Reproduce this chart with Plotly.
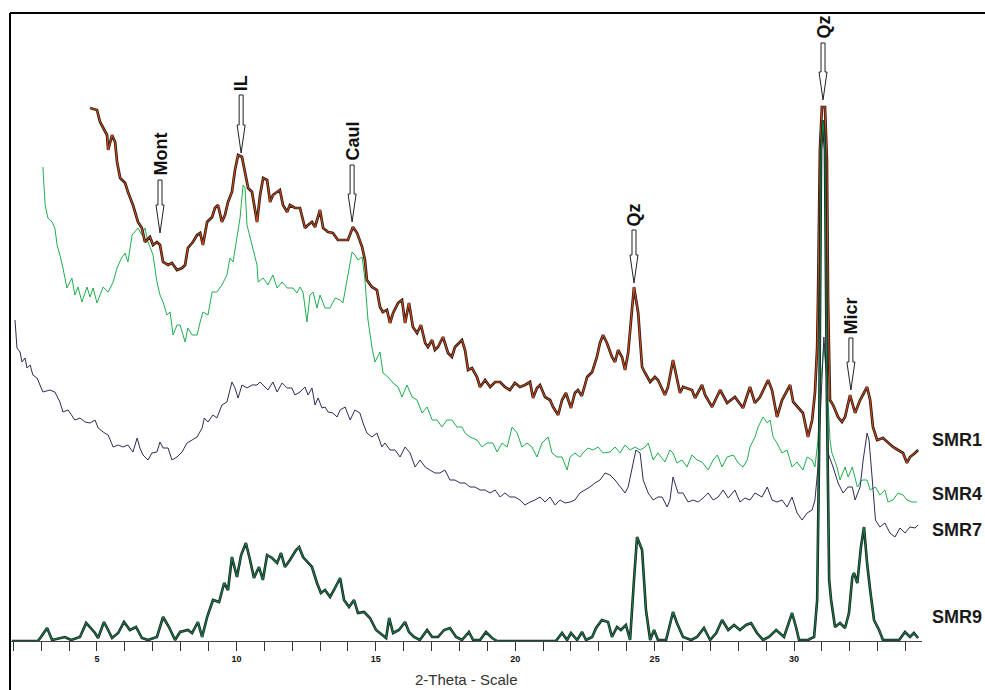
import plotly.graph_objects as go

# ---------------- data (2-Theta in degrees, intensity in a.u., stacked as displayed) -------------
smr1_theta = [4.75,5.00,5.11,5.36,5.40,5.54,5.65,5.72,5.83,6.01,6.11,6.29,6.47,6.61,6.72,6.90,7.01,7.15,7.26,7.37,
              7.55,7.69,7.87,8.05,8.16,8.26,8.44,8.59,8.70,8.80,8.95,9.13,9.23,9.34,9.48,9.59,9.70,9.84,9.95,10.06,
              10.20,10.31,10.42,10.56,10.74,10.85,10.96,11.10,11.21,11.31,11.46,11.56,11.67,11.82,11.92,12.10,12.28,12.46,12.57,12.71,
              12.82,13.00,13.11,13.29,13.46,13.64,13.82,14.00,14.18,14.33,14.51,14.61,14.68,14.86,15.04,15.15,15.25,15.40,15.51,15.62,
              15.80,15.94,16.05,16.19,16.33,16.48,16.62,16.77,16.87,17.02,17.12,17.23,17.41,17.59,17.73,17.84,18.09,18.20,18.31,18.45,
              18.63,18.74,18.92,19.10,19.28,19.46,19.63,19.81,19.99,20.17,20.35,20.53,20.64,20.78,20.89,21.07,21.25,21.36,21.54,21.68,
              21.82,22.00,22.14,22.25,22.39,22.58,22.76,22.93,23.04,23.15,23.29,23.47,23.58,23.69,23.83,23.94,24.05,24.19,24.26,24.41,
              24.55,24.66,24.84,25.01,25.12,25.37,25.48,25.66,25.80,25.91,26.02,26.34,26.45,26.70,26.81,27.06,27.35,27.60,27.88,28.17,
              28.42,28.60,28.78,29.07,29.21,29.39,29.57,29.86,29.97,30.14,30.32,30.50,30.65,30.75,30.83,30.86,30.93,31.00,31.11,31.18,
              31.22,31.29,31.40,31.58,31.72,31.83,32.01,32.19,32.37,32.62,32.73,32.83,32.98,33.19,33.37,33.55,33.73,33.91,34.05,34.16,
              34.34,34.45]
smr1_int = [533,531,519,506,491,506,499,479,463,458,449,436,419,413,399,404,396,399,396,379,
            376,378,371,373,376,393,399,406,408,396,419,424,433,436,419,426,439,449,471,486,
            484,469,453,449,419,446,463,461,439,446,449,451,436,429,436,433,433,413,416,419,
            414,431,413,409,408,401,401,401,414,408,394,381,361,354,351,334,329,331,318,328,
            338,341,318,338,314,308,316,298,294,301,291,294,304,288,284,294,301,291,271,273,
            264,254,261,254,259,259,254,251,258,254,256,259,243,253,256,244,241,234,226,241,
            248,233,248,251,245,264,269,284,298,306,298,284,279,291,284,271,288,328,354,328,
            274,268,259,264,261,246,254,281,261,248,254,251,243,256,246,234,251,238,244,233,
            254,238,244,261,251,224,241,256,239,234,228,204,221,248,294,341,491,534,534,481,
            341,241,236,224,219,224,246,228,241,254,241,214,201,203,198,194,191,188,178,184,
            188,191]

smr4_theta = [3.06,3.14,3.24,3.39,3.49,3.57,3.67,3.78,3.92,4.10,4.21,4.32,4.46,4.64,4.75,4.86,5.00,5.11,5.22,5.40,
              5.58,5.72,5.88,6.01,6.11,6.26,6.35,6.47,6.61,6.72,6.83,7.01,7.15,7.26,7.37,7.51,7.62,7.73,7.87,7.98,
              8.16,8.26,8.41,8.59,8.70,8.80,8.98,9.13,9.30,9.48,9.66,9.77,9.88,10.02,10.13,10.24,10.31,10.38,10.56,10.74,
              10.78,10.96,11.13,11.31,11.46,11.64,11.82,12.03,12.17,12.28,12.39,12.53,12.64,12.75,12.89,13.00,13.18,13.36,13.54,13.72,
              13.82,14.00,14.15,14.25,14.36,14.51,14.61,14.72,14.86,14.97,15.15,15.26,15.44,15.62,15.80,15.94,16.12,16.30,16.48,16.66,
              16.84,17.02,17.20,17.37,17.55,17.73,17.91,18.09,18.20,18.38,18.63,18.81,18.99,19.20,19.35,19.53,19.71,19.89,20.07,20.24,
              20.42,20.60,20.78,20.96,21.18,21.32,21.50,21.68,21.86,21.97,22.14,22.32,22.43,22.61,22.79,22.97,23.15,23.40,23.58,23.76,
              23.94,24.12,24.30,24.48,24.66,24.77,24.95,25.12,25.37,25.55,25.66,25.80,25.98,26.16,26.34,26.52,26.70,26.92,27.10,27.25,
              27.42,27.60,27.82,28.00,28.17,28.32,28.42,28.60,28.71,28.89,29.04,29.14,29.25,29.39,29.57,29.75,29.93,30.11,30.32,30.47,
              30.65,30.75,30.86,30.97,31.07,31.18,31.29,31.36,31.54,31.65,31.83,31.94,32.09,32.27,32.44,32.62,32.73,32.92,33.08,33.26,
              33.37,33.55,33.73,33.91,34.05,34.23,34.41]
smr4_int = [474,436,423,419,413,396,386,373,353,363,346,354,339,354,344,353,338,346,354,349,
            359,373,383,388,379,406,409,413,406,413,399,386,359,346,339,326,329,306,316,316,
            299,313,306,306,319,329,326,349,349,356,366,383,379,403,423,456,453,416,396,376,
            359,363,356,366,353,359,353,353,348,354,349,319,346,349,333,346,333,333,343,341,
            338,364,389,386,381,384,361,321,294,279,289,268,264,258,254,244,256,244,241,228,
            234,221,221,214,221,221,214,214,208,204,201,194,198,198,189,198,194,214,208,194,
            198,194,184,198,204,188,184,184,171,184,188,184,188,193,191,194,188,189,194,188,
            196,191,194,191,194,198,181,188,179,191,188,178,181,174,186,181,179,171,181,186,
            174,184,186,178,174,181,194,204,214,224,218,221,204,198,188,191,174,179,171,184,
            181,174,201,261,296,261,201,188,174,161,174,164,174,154,161,161,151,154,146,151,
            139,141,148,146,141,139,139]

smr7_theta = [2.06,2.13,2.24,2.31,2.42,2.49,2.60,2.70,2.85,2.96,3.06,3.31,3.49,3.67,3.78,3.96,4.10,4.21,4.39,4.57,
              4.75,4.93,5.04,5.22,5.40,5.58,5.76,5.93,6.11,6.29,6.44,6.54,6.65,6.83,6.97,7.15,7.26,7.37,7.55,7.69,
              7.87,8.05,8.23,8.41,8.59,8.77,8.85,8.98,9.16,9.30,9.48,9.66,9.84,9.95,10.06,10.20,10.38,10.56,10.74,10.85,
              10.96,11.13,11.31,11.46,11.64,11.82,11.99,12.10,12.28,12.46,12.57,12.71,12.82,12.93,13.07,13.18,13.29,13.46,13.61,13.72,
              13.90,14.08,14.25,14.43,14.54,14.68,14.86,15.04,15.22,15.33,15.51,15.69,15.87,16.05,16.23,16.41,16.59,16.77,16.94,17.12,
              17.30,17.48,17.66,17.84,18.02,18.20,18.38,18.56,18.74,18.92,19.10,19.28,19.46,19.63,19.81,19.99,20.17,20.35,20.53,20.71,
              20.89,21.07,21.25,21.43,21.61,21.79,21.97,22.14,22.32,22.50,22.68,22.86,23.04,23.22,23.40,23.58,23.76,23.94,24.05,24.19,
              24.33,24.48,24.59,24.77,24.95,25.12,25.27,25.45,25.55,25.66,25.84,26.02,26.20,26.38,26.56,26.74,26.92,27.10,27.28,27.46,
              27.64,27.88,28.06,28.24,28.42,28.60,28.85,29.04,29.21,29.39,29.57,29.75,29.93,30.11,30.29,30.47,30.65,30.75,30.86,31.00,
              31.07,31.18,31.22,31.40,31.58,31.76,31.94,32.09,32.19,32.37,32.48,32.62,32.69,32.80,32.92,33.08,33.26,33.44,33.62,33.80,
              33.98,34.16,34.34,34.45]
smr7_int = [321,293,289,279,283,273,276,266,263,256,249,251,249,239,229,231,226,221,223,219,
            218,221,213,209,206,194,196,194,196,189,203,193,186,181,188,189,199,193,193,181,
            184,189,198,201,204,213,223,219,226,223,236,239,259,253,243,256,253,256,256,259,
            256,251,259,249,258,253,253,246,249,254,246,253,236,243,233,234,229,228,224,231,
            234,221,231,228,218,208,204,208,194,198,191,191,184,194,188,174,181,174,171,168,
            168,171,161,161,158,158,154,154,151,151,148,151,144,148,144,144,141,136,139,141,
            144,139,144,136,141,138,139,141,148,151,154,158,161,168,166,161,154,148,154,171,
            191,188,161,148,141,144,144,134,141,164,148,148,139,141,139,143,148,141,144,151,
            143,151,139,143,141,148,144,154,141,139,141,134,144,128,121,128,131,141,174,261,
            304,261,188,174,158,148,154,154,141,154,181,208,201,164,121,114,118,108,104,113,
            108,114,113,116]

smr9_theta = [1.95,2.88,2.99,3.21,3.39,3.64,3.85,4.07,4.39,4.61,4.75,4.93,5.04,5.25,5.40,5.54,5.76,5.97,6.18,6.40,
              6.61,6.83,7.15,7.37,7.58,7.80,7.98,8.26,8.41,8.62,8.77,8.95,9.16,9.38,9.56,9.70,9.84,10.02,10.17,10.34,
              10.49,10.63,10.81,10.95,11.10,11.28,11.46,11.60,11.74,11.92,12.14,12.25,12.39,12.57,12.71,12.89,13.03,13.18,13.36,13.50,
              13.72,13.86,14.04,14.22,14.36,14.58,14.79,15.01,15.22,15.37,15.48,15.62,15.83,16.05,16.19,16.37,16.58,16.84,17.02,17.23,
              17.45,17.66,17.88,18.09,18.34,18.49,18.74,18.95,19.17,19.35,21.46,21.68,21.86,22.00,22.22,22.40,22.54,22.76,22.90,23.11,
              23.33,23.47,23.65,23.79,23.97,24.12,24.26,24.37,24.55,24.69,24.84,24.98,25.12,25.41,25.66,25.80,26.02,26.31,26.52,26.77,
              26.99,27.21,27.42,27.64,27.85,28.06,28.28,28.46,28.67,28.89,29.10,29.36,29.64,29.93,30.07,30.18,30.50,30.72,30.83,30.90,
              30.97,31.04,31.11,31.18,31.26,31.33,31.47,31.65,31.83,31.97,32.09,32.15,32.27,32.40,32.51,32.62,32.73,32.87,33.05,33.19,
              33.77,33.98,34.16,34.30,34.45]
smr9_int = [0,0,4,13,1,3,4,1,4,18,14,8,3,19,11,3,8,19,11,14,
            3,1,4,24,14,1,9,11,8,19,4,24,41,39,58,51,84,64,86,98,
            81,63,74,61,86,83,78,88,74,81,91,94,84,78,74,58,48,51,44,51,
            63,41,34,41,28,29,23,11,6,3,23,8,11,19,9,4,1,11,4,4,
            11,13,4,1,9,1,1,9,3,0,0,8,1,8,1,9,1,4,13,21,
            19,4,14,11,16,1,61,104,91,31,1,11,1,1,29,18,4,1,4,13,
            1,8,21,11,16,11,16,18,8,1,4,11,4,28,14,1,1,4,41,191,
            491,521,491,241,61,41,14,18,13,28,64,68,58,94,114,78,51,21,11,1,
            1,9,4,8,3]

sample_names = ["SMR1", "SMR4", "SMR7", "SMR9"]
label_level = [201, 147, 111, 24]          # intensity level of the right-hand sample labels

# phase markers: label, 2-Theta, intensity at arrow tip, intensity at top of the arrow shaft
ann_labels = ["Mont", "IL", "Caul", "Qz", "Qz", "Micr"]
ann_theta = [7.26, 10.17, 14.15, 24.26, 31.04, 32.04]
ann_tip = [408, 488, 419, 358, 541, 251]
ann_top = [461, 546, 476, 411, 598, 303]

x_ticks = list(range(2, 35))
x_title = "2-Theta - Scale"

# ---------------- figure ----------------
fig = go.Figure()

fig.add_trace(go.Scatter(x=smr4_theta, y=smr4_int, mode="lines",
                         line=dict(color="#1fae4f", width=1), hoverinfo="skip"))
fig.add_trace(go.Scatter(x=smr7_theta, y=smr7_int, mode="lines",
                         line=dict(color="#2c2c56", width=1), hoverinfo="skip"))
fig.add_trace(go.Scatter(x=smr1_theta, y=smr1_int, mode="lines",
                         line=dict(color="#2a1c14", width=2.7), hoverinfo="skip"))
fig.add_trace(go.Scatter(x=smr1_theta, y=smr1_int, mode="lines",
                         line=dict(color="#dc4a18", width=1.0), hoverinfo="skip"))
fig.add_trace(go.Scatter(x=smr9_theta, y=smr9_int, mode="lines",
                         line=dict(color="#1c1c1c", width=2.6), hoverinfo="skip"))
fig.add_trace(go.Scatter(x=smr9_theta, y=smr9_int, mode="lines",
                         line=dict(color="#13804a", width=1.1), hoverinfo="skip"))

PX_DEG = 0.03587   # degrees per screen pixel along x (for arrow widths)
shapes = []
annotations = []
for lab, th, tip, top in zip(ann_labels, ann_theta, ann_tip, ann_top):
    ws = 2.0 * PX_DEG
    wh = 4.0 * PX_DEG
    hs = tip + 28
    path = (f"M {th-ws},{top} L {th+ws},{top} L {th+ws},{hs} L {th+wh},{hs} "
            f"L {th},{tip} L {th-wh},{hs} L {th-ws},{hs} Z")
    shapes.append(dict(type="path", xref="x", yref="y", path=path,
                       fillcolor="white", line=dict(color="#222222", width=1), layer="above"))
    annotations.append(dict(x=th, y=top + 2, xref="x", yref="y", text=f"<b>{lab}</b>",
                            textangle=-90, showarrow=False, xanchor="center", yanchor="bottom",
                            font=dict(family="Liberation Sans, Arial", size=18, color="#111111")))

for name, lvl in zip(sample_names, label_level):
    annotations.append(dict(x=1.0085, y=lvl, xref="paper", yref="y", text=f"<b>{name}</b>",
                            showarrow=False, xanchor="left", yanchor="middle",
                            font=dict(family="Liberation Sans, Arial", size=18, color="#1a1a1a")))

# x-axis title placed below the tick labels
annotations.append(dict(x=0.5, y=-0.061, xref="paper", yref="paper", text=x_title,
                        showarrow=False, xanchor="center", yanchor="middle",
                        font=dict(family="Liberation Sans, Arial", size=15, color="#333333")))

# frame lines (top and left)
shapes.append(dict(type="line", xref="paper", yref="paper", x0=0, x1=1.07, y0=1, y1=1,
                   line=dict(color="black", width=2)))
shapes.append(dict(type="line", xref="paper", yref="paper", x0=0, x1=0, y0=1, y1=-0.08,
                   line=dict(color="black", width=2)))

fig.update_layout(
    width=985, height=690,
    margin=dict(l=10, r=63, t=13, b=49),
    paper_bgcolor="white", plot_bgcolor="white",
    showlegend=False,
    shapes=shapes, annotations=annotations,
    xaxis=dict(range=[1.88, 34.59], showgrid=False, zeroline=False,
               showline=True, linecolor="#444444", linewidth=1,
               ticks="outside", ticklen=9, tickwidth=1, tickcolor="#333333",
               tickvals=x_ticks,
               ticktext=[f"<b>{v}</b>" if v % 5 == 0 else "" for v in x_ticks],
               tickfont=dict(family="Liberation Sans, Arial", size=9, color="#111111")),
    yaxis=dict(range=[0, 628], visible=False, showgrid=False, zeroline=False),
)

fig.write_html("out.html")
